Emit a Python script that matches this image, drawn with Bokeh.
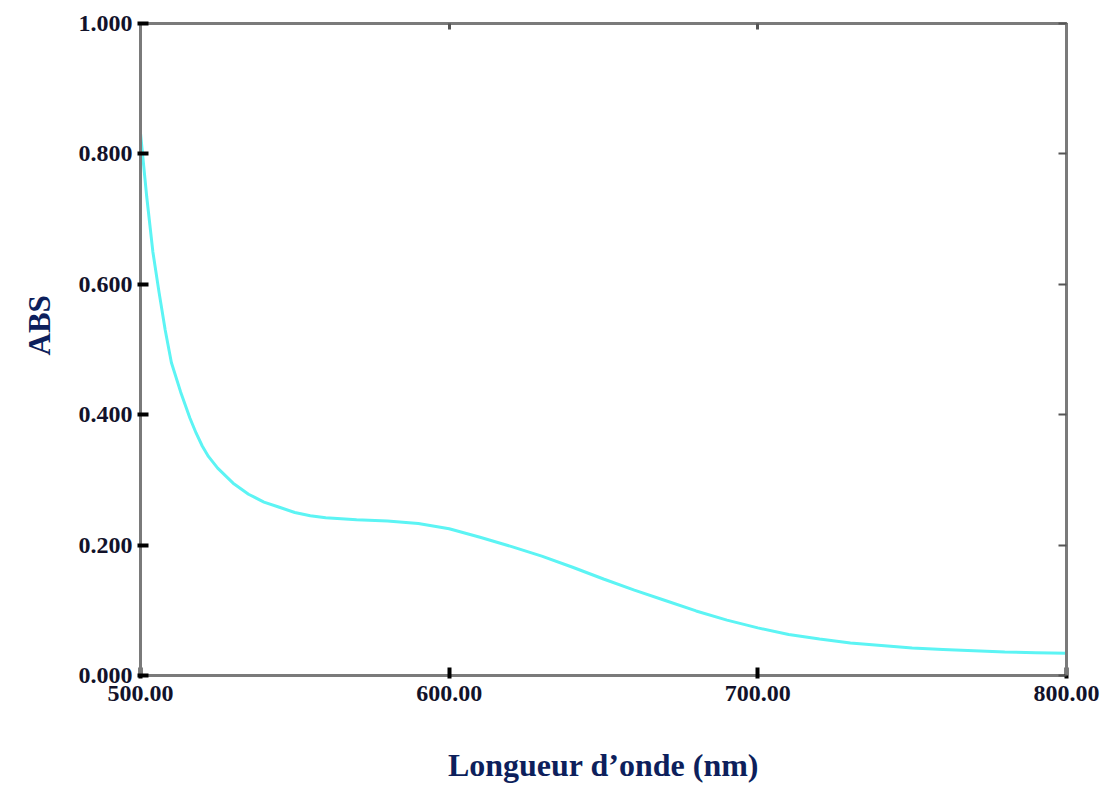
from bokeh.plotting import figure
from bokeh.models import LinearAxis, FixedTicker, Range1d, Title
from bokeh.embed import file_html
from bokeh.resources import INLINE

# ---- data ----
wavelength = [500, 502, 504, 506, 508, 510, 513, 516, 518, 520, 522, 525, 530, 535,
              540, 545, 550, 555, 560, 570, 580, 590, 600, 610, 620, 630, 640, 650,
              660, 670, 680, 690, 700, 710, 720, 730, 740, 750, 760, 770, 780, 790,
              800]
absorbance = [0.832, 0.735, 0.650, 0.588, 0.530, 0.480, 0.435, 0.395, 0.372, 0.352,
              0.336, 0.318, 0.295, 0.278, 0.266, 0.258, 0.250, 0.245, 0.242, 0.239,
              0.237, 0.233, 0.225, 0.212, 0.198, 0.183, 0.166, 0.148, 0.131, 0.115,
              0.099, 0.085, 0.073, 0.063, 0.056, 0.050, 0.046, 0.042, 0.040, 0.038,
              0.036, 0.035, 0.034]
x_ticks = [500, 600, 700, 800]
x_tick_labels = ["500.00", "600.00", "700.00", "800.00"]
y_ticks = [0.0, 0.2, 0.4, 0.6, 0.8, 1.0]
y_tick_labels = ["0.000", "0.200", "0.400", "0.600", "0.800", "1.000"]
x_title = "Longueur d\u2019onde (nm)"
y_title = "ABS"

FONT = "Liberation Serif"
FRAME = "#7a7a7a"
TICKTXT = "#12122a"
TITLE = "#0d1f5c"

p = figure(width=1102, height=794, output_backend="svg", toolbar_location=None,
           x_range=Range1d(500, 800), y_range=Range1d(0, 1.0),
           min_border_left=140, min_border_right=36, min_border_top=23,
           min_border_bottom=119, x_axis_location=None, y_axis_location=None,
           background_fill_color="white", border_fill_color="white")
p.grid.visible = False
p.outline_line_color = FRAME
p.outline_line_width = 3

# left axis
ly = LinearAxis(ticker=FixedTicker(ticks=y_ticks),
                major_label_overrides=dict(zip(y_ticks, y_tick_labels)))
ly.axis_line_color = FRAME
ly.axis_line_width = 3
ly.major_tick_line_color = "black"
ly.major_tick_line_width = 4
ly.major_tick_in = 8
ly.major_tick_out = 3
ly.minor_tick_line_color = None
ly.major_label_standoff = 5
ly.major_label_text_font = FONT
ly.major_label_text_font_style = "bold"
ly.major_label_text_font_size = "24px"
ly.major_label_text_color = TICKTXT
p.add_layout(ly, "left")

# y title, placed a little above the frame centre like the reference
yt = Title(text=y_title, align="left", offset=320, standoff=37,
           text_font=FONT, text_font_style="bold", text_font_size="31px",
           text_color=TITLE)
p.add_layout(yt, "left")

# bottom axis
bx = LinearAxis(ticker=FixedTicker(ticks=x_ticks),
                major_label_overrides=dict(zip(x_ticks, x_tick_labels)))
bx.axis_line_color = FRAME
bx.axis_line_width = 3
bx.major_tick_line_color = "black"
bx.major_tick_line_width = 4
bx.major_tick_in = 8
bx.major_tick_out = 3
bx.minor_tick_line_color = None
bx.major_label_standoff = 7
bx.major_label_text_font = FONT
bx.major_label_text_font_style = "bold"
bx.major_label_text_font_size = "24px"
bx.major_label_text_color = TICKTXT
bx.axis_label = x_title
bx.axis_label_text_font = FONT
bx.axis_label_text_font_style = "bold"
bx.axis_label_text_font_size = "32px"
bx.axis_label_text_color = TITLE
bx.axis_label_standoff = 43
p.add_layout(bx, "below")

# right axis (gray ticks only)
ry = LinearAxis(ticker=FixedTicker(ticks=y_ticks),
                major_label_overrides={t: "" for t in y_ticks})
ry.axis_line_color = FRAME
ry.axis_line_width = 3
ry.major_tick_line_color = "#555555"
ry.major_tick_line_width = 2
ry.major_tick_in = 8
ry.major_tick_out = 0
ry.minor_tick_line_color = None
ry.major_label_standoff = 0
p.add_layout(ry, "right")

# top axis (gray ticks only)
tx = LinearAxis(ticker=FixedTicker(ticks=x_ticks),
                major_label_overrides={t: "" for t in x_ticks})
tx.axis_line_color = FRAME
tx.axis_line_width = 3
tx.major_tick_line_color = "#555555"
tx.major_tick_line_width = 3
tx.major_tick_in = 6
tx.major_tick_out = 0
tx.minor_tick_line_color = None
tx.major_label_standoff = 0
p.add_layout(tx, "above")

p.line(wavelength, absorbance, line_color="#5cf4f4", line_width=3)

open("out.html", "w").write(file_html(p, INLINE))
